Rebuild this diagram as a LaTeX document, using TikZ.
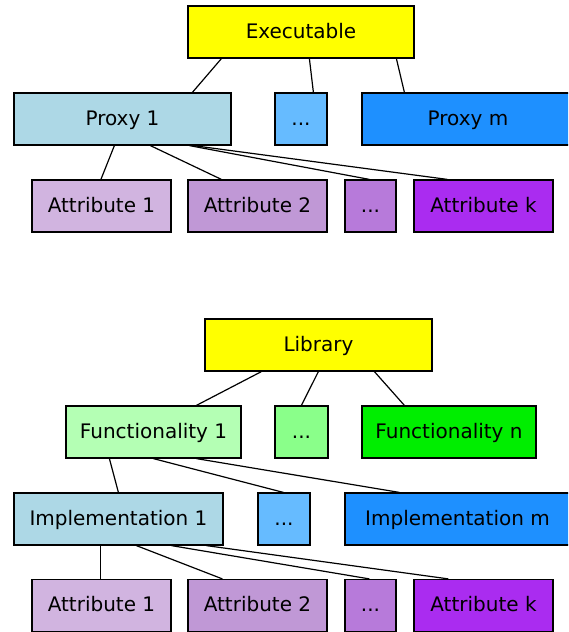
\documentclass[tikz,border=0pt]{standalone}
\usepackage{fontspec}
\setmainfont{DejaVu Sans}
\definecolor{cYellow}{RGB}{255,255,0}
\definecolor{cBlueA}{RGB}{173,216,230}
\definecolor{cBlueB}{RGB}{102,187,255}
\definecolor{cBlueC}{RGB}{30,144,255}
\definecolor{cPurA}{RGB}{209,180,224}
\definecolor{cPurB}{RGB}{192,152,214}
\definecolor{cPurC}{RGB}{183,122,218}
\definecolor{cPurD}{RGB}{170,44,240}
\definecolor{cGreenA}{RGB}{180,255,180}
\definecolor{cGreenB}{RGB}{138,255,138}
\definecolor{cGreenC}{RGB}{0,238,0}
\tikzset{
  box/.style={draw=black, line width=1.2pt, minimum height=52pt, inner sep=0pt,
    text height=15pt, text depth=3pt,
    font=\fontsize{20}{23}\selectfont},
  link/.style={line width=1.2pt}
}
\begin{document}
\begin{tikzpicture}[x=1pt,y=-1pt]
\useasboundingbox (0,0) rectangle (568,632);
\clip (0,0) rectangle (568,632);
% executable tree
\node[box, fill=cYellow, minimum width=226pt] (exe) at (301,32) {Executable};
\node[box, fill=cBlueA, minimum width=217pt] (p1) at (122.5,119) {Proxy 1};
\node[box, fill=cBlueB, minimum width=52pt] (pd) at (301,119) {...};
\node[box, fill=cBlueC, minimum width=212pt] (pm) at (468,119) {Proxy m};
\node[box, fill=cPurA, minimum width=139pt] (a1) at (101.5,206) {Attribute 1};
\node[box, fill=cPurB, minimum width=139pt] (a2) at (257.5,206) {Attribute 2};
\node[box, fill=cPurC, minimum width=51pt] (ad) at (370.5,206) {...};
\node[box, fill=cPurD, minimum width=139pt] (ak) at (483.5,206) {Attribute k};
\draw[link] ([xshift=34pt]exe.south west) -- ([xshift=179pt]p1.north west);
\draw[link] ([xshift=122pt]exe.south west) -- ([xshift=39pt]pd.north west);
\draw[link] ([xshift=209pt]exe.south west) -- ([xshift=43pt]pm.north west);
\draw[link] ([xshift=101pt]p1.south west) -- ([xshift=69.5pt]a1.north west);
\draw[link] ([xshift=137pt]p1.south west) -- ([xshift=34pt]a2.north west);
\draw[link] ([xshift=176pt]p1.south west) -- ([xshift=25pt]ad.north west);
\draw[link] ([xshift=180pt]p1.south west) -- ([xshift=34pt]ak.north west);
% library tree
\node[box, fill=cYellow, minimum width=227pt] (lib) at (318.5,345) {Library};
\node[box, fill=cGreenA, minimum width=175pt] (f1) at (153.5,432) {Functionality 1};
\node[box, fill=cGreenB, minimum width=53pt] (fd) at (301.5,432) {...};
\node[box, fill=cGreenC, minimum width=174pt] (fn) at (449,432) {Functionality n};
\node[box, fill=cBlueA, minimum width=209pt] (i1) at (118.5,519) {Implementation 1};
\node[box, fill=cBlueB, minimum width=52pt] (id) at (284,519) {...};
\node[box, fill=cBlueC, minimum width=225pt] (im) at (457.5,519) {Implementation m};
\node[box, fill=cPurA, minimum width=139pt] (b1) at (101.5,605.5) {Attribute 1};
\node[box, fill=cPurB, minimum width=139pt] (b2) at (257.5,605.5) {Attribute 2};
\node[box, fill=cPurC, minimum width=51pt] (bd) at (370.5,605.5) {...};
\node[box, fill=cPurD, minimum width=139pt] (bk) at (483.5,605.5) {Attribute k};
\draw[link] ([xshift=57pt]lib.south west) -- ([xshift=131pt]f1.north west);
\draw[link] ([xshift=114pt]lib.south west) -- ([xshift=27pt]fd.north west);
\draw[link] ([xshift=170pt]lib.south west) -- ([xshift=43pt]fn.north west);
\draw[link] ([xshift=44pt]f1.south west) -- ([xshift=105pt]i1.north west);
\draw[link] ([xshift=88pt]f1.south west) -- ([xshift=26pt]id.north west);
\draw[link] ([xshift=131pt]f1.south west) -- ([xshift=55pt]im.north west);
\draw[link] ([xshift=87pt]i1.south west) -- ([xshift=69pt]b1.north west);
\draw[link] ([xshift=123pt]i1.south west) -- ([xshift=35pt]b2.north west);
\draw[link] ([xshift=158pt]i1.south west) -- ([xshift=25pt]bd.north west);
\draw[link] ([xshift=193pt]i1.south west) -- ([xshift=35pt]bk.north west);
\end{tikzpicture}
\end{document}
